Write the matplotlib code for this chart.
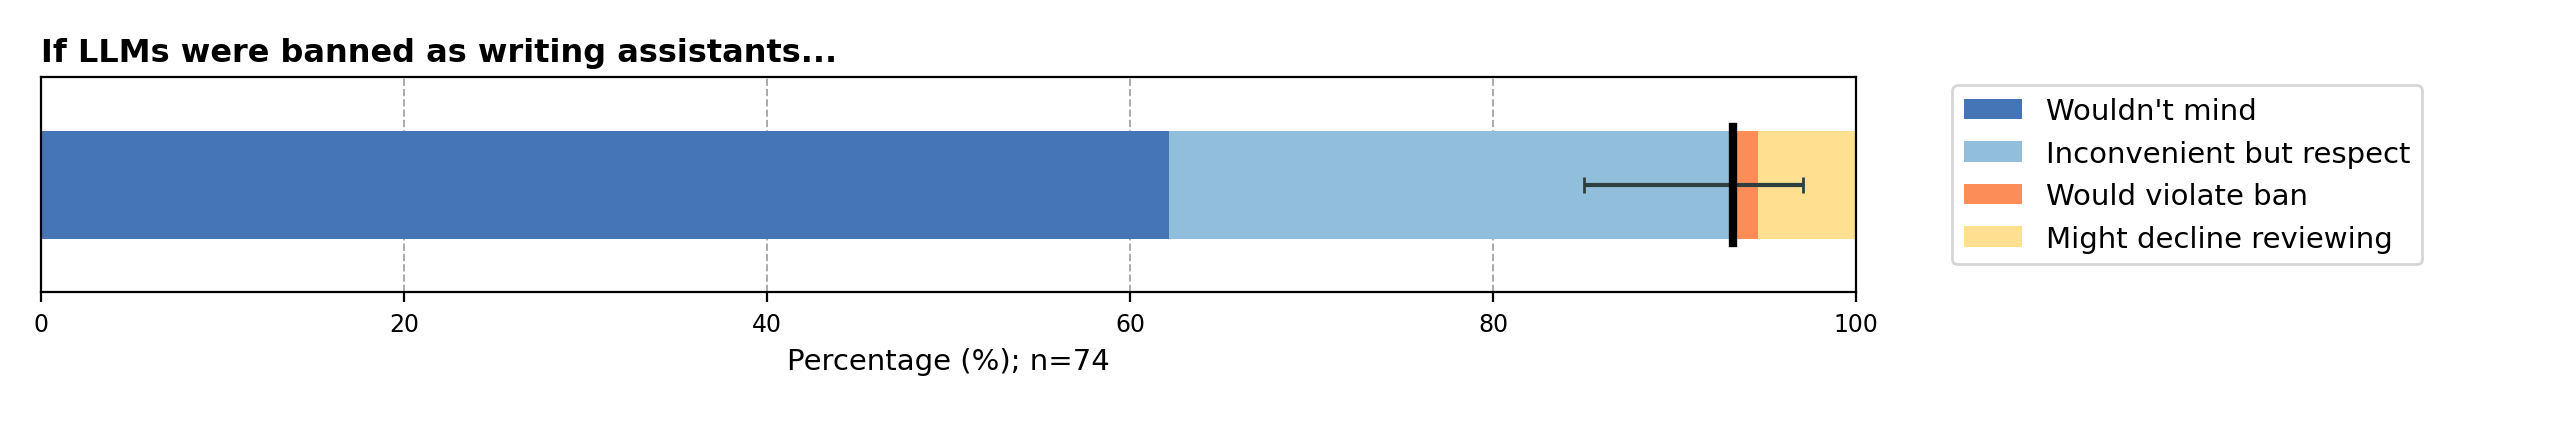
import matplotlib.pyplot as plt

labels = ["Wouldn't mind", "Inconvenient but respect", "Would violate ban", "Might decline reviewing"]
counts = [46, 23, 1, 4]
colors = ["#4575b4", "#91bfdb", "#fc8d59", "#fee090"]
n = sum(counts)
mean_line = 93.2
err_low, err_high = 85.0, 97.1

fig = plt.figure(figsize=(12.8, 2.135), dpi=200)
ax = fig.add_axes([0.016, 1 - 180 / 262, 0.709, (180 - 48) / 262])

left = 0
for lab, c, col in zip(labels, counts, colors):
    w = c / n * 100
    ax.barh(0, w, left=left, height=0.5, color=col, label=lab, zorder=2)
    left += w

ax.errorbar(mean_line, 0, xerr=[[mean_line - err_low], [err_high - mean_line]],
            fmt="none", ecolor="#2f3f3f", capsize=3, elinewidth=1.5, zorder=4)
ax.plot([mean_line, mean_line], [-0.27, 0.27], color="black", lw=3, zorder=5)

ax.set_xlim(0, 100)
ax.set_ylim(-0.5, 0.5)
ax.set_yticks([])
ax.set_xticks([0, 20, 40, 60, 80, 100])
ax.tick_params(axis="x", labelsize=8.5)
ax.grid(axis="x", linestyle="--", color="#aaaaaa", lw=0.7, zorder=0)
ax.set_xlabel(f"Percentage (%); n={n}", fontsize=10.5)
ax.set_title("If LLMs were banned as writing assistants...", loc="left",
             fontsize=11.5, fontweight="bold")
ax.legend(loc="upper left", bbox_to_anchor=(1.045, 1.03), fontsize=10.5, frameon=True)

fig.savefig("out.png", dpi=200)
